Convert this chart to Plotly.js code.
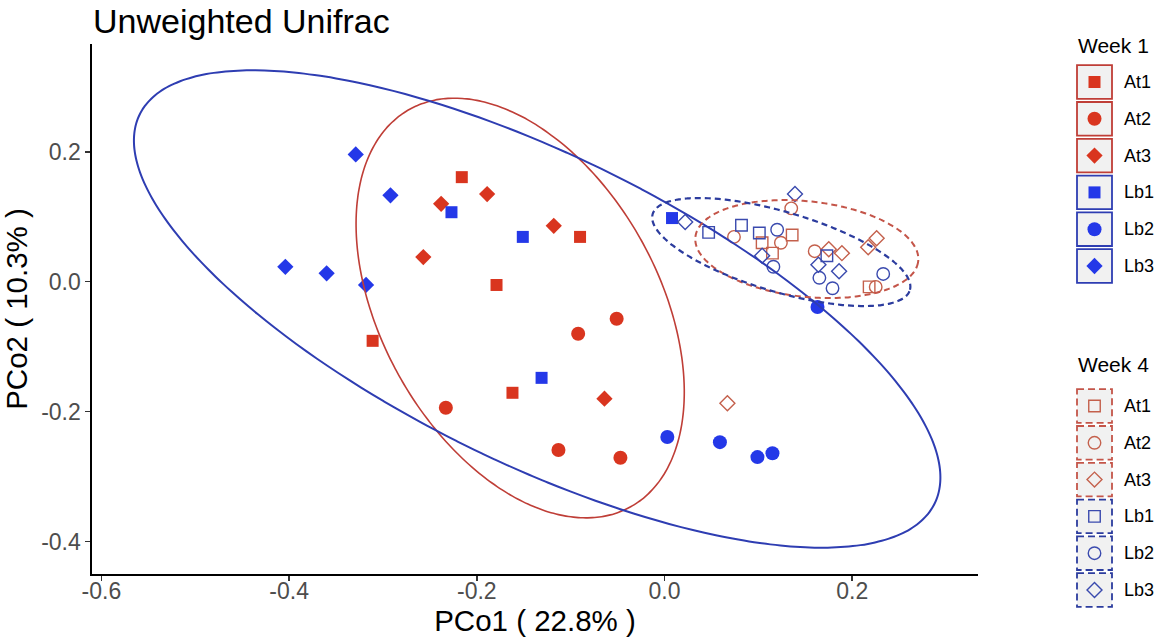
<!DOCTYPE html>
<html><head><meta charset="utf-8">
<script src="https://cdn.plot.ly/plotly-3.0.1.min.js"></script>
<style>html,body{margin:0;padding:0;background:#fff}</style>
</head><body><div id="chart" style="width:1162px;height:640px"></div>
<script>
// ---------------- data ----------------
const groups = ['At1', 'At2', 'At3', 'Lb1', 'Lb2', 'Lb3'];
const weeks = ['Week 1', 'Week 4'];

// Week 1 (filled markers)
const w1_At1_x = [-0.216, -0.090, -0.179, -0.311, -0.162];
const w1_At1_y = [0.161, 0.069, -0.005, -0.091, -0.171];
const w1_At2_x = [-0.051, -0.092, -0.233, -0.113, -0.047];
const w1_At2_y = [-0.057, -0.080, -0.194, -0.259, -0.271];
const w1_At3_x = [-0.238, -0.189, -0.118, -0.257, -0.064];
const w1_At3_y = [0.120, 0.135, 0.086, 0.038, -0.180];
const w1_Lb1_x = [-0.227, -0.151, -0.131, 0.008];
const w1_Lb1_y = [0.107, 0.069, -0.148, 0.098];
const w1_Lb2_x = [0.003, 0.059, 0.099, 0.115, 0.163];
const w1_Lb2_y = [-0.239, -0.247, -0.270, -0.264, -0.039];
const w1_Lb3_x = [-0.329, -0.292, -0.404, -0.360, -0.318];
const w1_Lb3_y = [0.196, 0.133, 0.023, 0.013, -0.005];

// Week 4 (open markers)
const w4_At1_x = [0.136, 0.104, 0.115, 0.218];
const w4_At1_y = [0.072, 0.060, 0.044, -0.008];
const w4_At2_x = [0.074, 0.124, 0.135, 0.160, 0.225];
const w4_At2_y = [0.069, 0.060, 0.113, 0.047, -0.008];
const w4_At3_x = [0.189, 0.226, 0.217, 0.175, 0.067];
const w4_At3_y = [0.044, 0.067, 0.053, 0.050, -0.187];
const w4_Lb1_x = [0.047, 0.082, 0.101, 0.173];
const w4_Lb1_y = [0.076, 0.087, 0.075, 0.040];
const w4_Lb2_x = [0.120, 0.116, 0.165, 0.179, 0.233];
const w4_Lb2_y = [0.080, 0.023, 0.006, -0.010, 0.012];
const w4_Lb3_x = [0.022, 0.104, 0.139, 0.164, 0.186];
const w4_Lb3_y = [0.092, 0.040, 0.135, 0.026, 0.016];

// 95% ellipses: centre and two conjugate half-axis vectors (data units)
const ellipseNames = ['W1 At', 'W1 Lb', 'W4 At', 'W4 Lb'];
const ellipseCx = [-0.1538, -0.1357, 0.1516, 0.1244];
const ellipseCy = [-0.0405, -0.0420, 0.0503, 0.0457];
const ellipseUx = [0.1177, 0.4235, 0.1187, 0.1370];
const ellipseUy = [-0.3060, -0.2995, -0.0186, -0.0586];
const ellipseVx = [-0.1293, -0.0723, -0.0055, -0.0121];
const ellipseVy = [-0.1036, -0.2130, -0.0731, -0.0590];

const xTickVals = [-0.6, -0.4, -0.2, 0.0, 0.2];
const xTickText = ['-0.6', '-0.4', '-0.2', '0.0', '0.2'];
const yTickVals = [-0.4, -0.2, 0.0, 0.2];
const yTickText = ['-0.4', '-0.2', '0.0', '0.2'];

// ---------------- styles ----------------
const FONT = 'Liberation Sans, Arial, Helvetica, sans-serif';
const RED = '#D9351F', BLUE = '#2438E8';
const RED_OPEN = '#C4604C', BLUE_OPEN = '#3A4AAE';
const RED_ELL = '#BF3E37', BLUE_ELL = '#2E3DB2';
const RED_ELL_D = '#C45549', BLUE_ELL_D = '#2C3C9E';
const symFilled = {At1: 'square', At2: 'circle', At3: 'diamond', Lb1: 'square', Lb2: 'circle', Lb3: 'diamond'};
const symOpen = {At1: 'square-open', At2: 'circle-open', At3: 'diamond-open', Lb1: 'square-open', Lb2: 'circle-open', Lb3: 'diamond-open'};
const sizeFilled = {square: 12, circle: 14, diamond: 12.5};
const sizeOpen = {square: 11.5, circle: 12.5, diamond: 11.5};

const dataW1 = {At1: [w1_At1_x, w1_At1_y], At2: [w1_At2_x, w1_At2_y], At3: [w1_At3_x, w1_At3_y],
                Lb1: [w1_Lb1_x, w1_Lb1_y], Lb2: [w1_Lb2_x, w1_Lb2_y], Lb3: [w1_Lb3_x, w1_Lb3_y]};
const dataW4 = {At1: [w4_At1_x, w4_At1_y], At2: [w4_At2_x, w4_At2_y], At3: [w4_At3_x, w4_At3_y],
                Lb1: [w4_Lb1_x, w4_Lb1_y], Lb2: [w4_Lb2_x, w4_Lb2_y], Lb3: [w4_Lb3_x, w4_Lb3_y]};

function colFilled(g) { return g.startsWith('At') ? RED : BLUE; }
function colOpen(g) { return g.startsWith('At') ? RED_OPEN : BLUE_OPEN; }
function baseSym(s) { return s.replace('-open', ''); }

const traces = [];
groups.forEach(g => {
  const s = symFilled[g];
  traces.push({type: 'scatter', mode: 'markers', name: 'Week 1 ' + g, x: dataW1[g][0], y: dataW1[g][1],
    xaxis: 'x', yaxis: 'y', showlegend: false, hoverinfo: 'x+y+name',
    marker: {symbol: s, size: sizeFilled[s], color: colFilled(g), line: {width: 0}}});
});
groups.forEach(g => {
  const s = symOpen[g];
  traces.push({type: 'scatter', mode: 'markers', name: 'Week 4 ' + g, x: dataW4[g][0], y: dataW4[g][1],
    xaxis: 'x', yaxis: 'y', showlegend: false, hoverinfo: 'x+y+name',
    marker: {symbol: s, size: sizeOpen[baseSym(s)], color: colOpen(g), line: {width: 1.4, color: colOpen(g)}}});
});

// ellipses
const ellStyle = [
  {color: RED_ELL, width: 1.6, dash: 'solid'},
  {color: BLUE_ELL, width: 2.0, dash: 'solid'},
  {color: RED_ELL_D, width: 2.0, dash: '6px,4px'},
  {color: BLUE_ELL_D, width: 2.2, dash: '6px,4px'}
];
ellipseNames.forEach((nm, k) => {
  const ex = [], ey = [];
  const N = 200;
  for (let i = 0; i <= N; i++) {
    const t = 2 * Math.PI * i / N;
    ex.push(ellipseCx[k] + Math.cos(t) * ellipseUx[k] + Math.sin(t) * ellipseVx[k]);
    ey.push(ellipseCy[k] + Math.cos(t) * ellipseUy[k] + Math.sin(t) * ellipseVy[k]);
  }
  traces.push({type: 'scatter', mode: 'lines', name: nm, x: ex, y: ey, xaxis: 'x', yaxis: 'y',
    showlegend: false, hoverinfo: 'skip', line: {color: ellStyle[k].color, width: ellStyle[k].width, dash: ellStyle[k].dash, shape: 'spline'}});
});

// ---------------- custom legend (drawn on a hidden pixel-like axis pair) ----------------
const shapes = [], annotations = [];
const LEG = {boxX0: 1077, boxX1: 1112, mkX: 1094.5, txtX: 1122, step: 36.8, boxH: 33.6,
             titleY: [45, 364], firstCenter: [82, 406]};
weeks.forEach((wk, w) => {
  annotations.push({xref: 'x2', yref: 'y2', x: LEG.boxX0 - 1, y: LEG.titleY[w], text: wk, showarrow: false,
    xanchor: 'left', yanchor: 'middle', font: {family: FONT, size: 21, color: '#000'}});
  groups.forEach((g, i) => {
    const cy = LEG.firstCenter[w] + i * LEG.step;
    const isAt = g.startsWith('At');
    const bcol = w === 0 ? (isAt ? RED_ELL : BLUE_ELL) : (isAt ? RED_ELL_D : BLUE_ELL_D);
    shapes.push({type: 'rect', xref: 'x2', yref: 'y2', layer: 'below',
      x0: LEG.boxX0, x1: LEG.boxX1, y0: cy - LEG.boxH / 2, y1: cy + LEG.boxH / 2,
      fillcolor: '#F1F1F1', line: {color: bcol, width: 1.8, dash: w === 0 ? 'solid' : '7px,4px'}});
    annotations.push({xref: 'x2', yref: 'y2', x: LEG.txtX, y: cy, text: g, showarrow: false,
      xanchor: 'left', yanchor: 'middle', font: {family: FONT, size: 18, color: '#000'}});
    const s = w === 0 ? symFilled[g] : symOpen[g];
    traces.push({type: 'scatter', mode: 'markers', x: [LEG.mkX], y: [cy], xaxis: 'x2', yaxis: 'y2',
      showlegend: false, hoverinfo: 'skip',
      marker: w === 0
        ? {symbol: s, size: sizeFilled[s], color: colFilled(g), line: {width: 0}}
        : {symbol: s, size: sizeOpen[baseSym(s)], color: colOpen(g), line: {width: 1.4, color: colOpen(g)}}});
  });
});

const layout = {
  width: 1162, height: 640,
  margin: {l: 92, r: 0, t: 30, b: 30, pad: 0},
  paper_bgcolor: '#fff', plot_bgcolor: 'rgba(0,0,0,0)',
  font: {family: FONT},
  showlegend: false,
  title: {text: 'Unweighted Unifrac', font: {family: FONT, size: 34, color: '#000'},
          x: 93 / 1162, xanchor: 'left', xref: 'container', y: 1 - 21 / 640, yanchor: 'middle', yref: 'container'},
  xaxis: {domain: [0, (978 - 92) / 1070], range: [-0.610, 0.334], anchor: 'y',
          showline: true, linecolor: '#000', linewidth: 1.6, mirror: false,
          ticks: 'outside', ticklen: 5, tickwidth: 1.5, tickcolor: '#333',
          tickvals: xTickVals, ticktext: xTickText, ticklabelstandoff: -9,
          tickfont: {family: FONT, size: 23, color: '#4D4D4D'},
          showgrid: false, zeroline: false,
          title: {text: 'PCo1 ( 22.8% )', font: {family: FONT, size: 29.5, color: '#000'}, standoff: 4}},
  yaxis: {domain: [(610 - 574) / 580, (610 - 44) / 580], range: [-0.450, 0.366], anchor: 'x',
          showline: true, linecolor: '#000', linewidth: 1.6,
          ticks: 'outside', ticklen: 5, tickwidth: 1.5, tickcolor: '#333',
          tickvals: yTickVals, ticktext: yTickText,
          tickfont: {family: FONT, size: 23, color: '#4D4D4D'},
          showgrid: false, zeroline: false,
          title: {text: 'PCo2 ( 10.3% )', font: {family: FONT, size: 29.5, color: '#000'}, standoff: 6}},
  xaxis2: {domain: [(1040 - 92) / 1070, 1], range: [1040, 1162], anchor: 'y2', visible: false, fixedrange: true},
  yaxis2: {domain: [0, 1], range: [610, 30], anchor: 'x2', visible: false, fixedrange: true},
  shapes: shapes,
  annotations: annotations
};

Plotly.newPlot('chart', traces, layout, {displayModeBar: false, staticPlot: true});
</script>
</body></html>
